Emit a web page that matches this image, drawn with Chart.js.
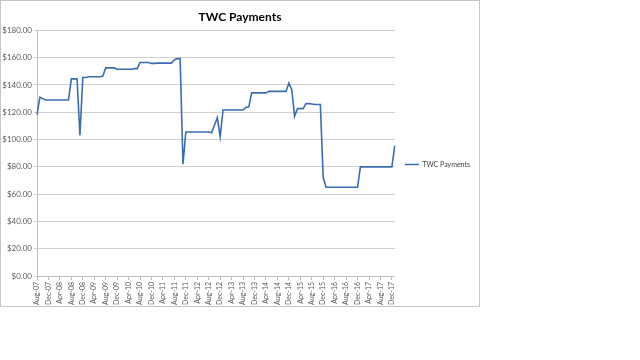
<!DOCTYPE html>
<html><head><meta charset="utf-8">
<script src="https://cdn.jsdelivr.net/npm/chart.js@4"></script>
<style>
html,body{margin:0;padding:0;background:#fff;}
#wrap{position:absolute;left:0;top:0;width:480px;height:307px;}
#frame{position:absolute;left:0;top:0;width:480px;height:307px;box-sizing:border-box;border:1px solid #c6c6c6;pointer-events:none;}
canvas{position:absolute;left:0;top:0;}
</style></head><body>
<div id="wrap"><canvas id="c" width="480" height="307"></canvas><div id="frame"></div></div>
<script>
const chartTitle = 'TWC Payments';
const seriesName = 'TWC Payments';
const months = [
 'Aug-07','Sep-07','Oct-07','Nov-07','Dec-07',
 'Jan-08','Feb-08','Mar-08','Apr-08','May-08','Jun-08','Jul-08','Aug-08','Sep-08','Oct-08','Nov-08','Dec-08',
 'Jan-09','Feb-09','Mar-09','Apr-09','May-09','Jun-09','Jul-09','Aug-09','Sep-09','Oct-09','Nov-09','Dec-09',
 'Jan-10','Feb-10','Mar-10','Apr-10','May-10','Jun-10','Jul-10','Aug-10','Sep-10','Oct-10','Nov-10','Dec-10',
 'Jan-11','Feb-11','Mar-11','Apr-11','May-11','Jun-11','Jul-11','Aug-11','Sep-11','Oct-11','Nov-11','Dec-11',
 'Jan-12','Feb-12','Mar-12','Apr-12','May-12','Jun-12','Jul-12','Aug-12','Sep-12','Oct-12','Nov-12','Dec-12',
 'Jan-13','Feb-13','Mar-13','Apr-13','May-13','Jun-13','Jul-13','Aug-13','Sep-13','Oct-13','Nov-13','Dec-13',
 'Jan-14','Feb-14','Mar-14','Apr-14','May-14','Jun-14','Jul-14','Aug-14','Sep-14','Oct-14','Nov-14','Dec-14',
 'Jan-15','Feb-15','Mar-15','Apr-15','May-15','Jun-15','Jul-15','Aug-15','Sep-15','Oct-15','Nov-15','Dec-15',
 'Jan-16','Feb-16','Mar-16','Apr-16','May-16','Jun-16','Jul-16','Aug-16','Sep-16','Oct-16','Nov-16','Dec-16',
 'Jan-17','Feb-17','Mar-17','Apr-17','May-17','Jun-17','Jul-17','Aug-17','Sep-17','Oct-17','Nov-17','Dec-17',
 'Jan-18'
];
const payments = [
 118,131,130,129,129,129,129,129,129,129,129,129,
 144.5,144.5,144.5,103,145.5,145.5,146,146,146,146,146,146.5,
 152.5,152.5,152.5,152.5,151.5,151.5,151.5,151.5,151.5,151.5,152,152,
 156.5,156.5,156.5,156.5,155.8,155.8,156,156,156,156,156,156,
 158.5,159.3,159.3,82,105.5,105.5,105.5,105.5,105.5,105.5,105.5,105.5,
 105.5,105,110.5,116,102,121.7,121.7,121.7,121.7,121.7,121.7,121.7,
 121.7,123.5,124,134.2,134.2,134.2,134.2,134.2,134.2,135.3,135.3,135.3,
 135.3,135.3,135.3,135.3,141.5,136.5,117,122.7,122.7,122.7,126.3,126.3,
 126,125.7,125.7,125.7,72,65,65,65,65,65,65,65,
 65,65,65,65,65,80,80,80,80,80,80,80,
 80,80,80,80,80,95.5
];
const yMin = 0, yMax = 180, yStep = 20;
const labelEvery = 4;

const FONT = 'Lato, "Open Sans", sans-serif';
new Chart(document.getElementById('c'), {
  type: 'line',
  data: {
    labels: months,
    datasets: [{
      label: seriesName,
      data: payments,
      borderColor: '#3b6db3',
      backgroundColor: '#3b6db3',
      borderWidth: 1.6,
      pointRadius: 0,
      pointHoverRadius: 0,
      tension: 0,
      fill: false
    }]
  },
  options: {
    responsive: false,
    animation: false,
    devicePixelRatio: 1,
    layout: { padding: { left: 0, right: 0, top: 0, bottom: 0 } },
    plugins: {
      title: {
        display: true, text: chartTitle, color: '#000',
        font: { family: FONT, size: 12, weight: 'bold' },
        padding: { top: 10, bottom: 6 }
      },
      legend: {
        position: 'right',
        title: { display: true, text: ' ', font: { family: FONT, size: 10 }, padding: 5 },
        labels: {
          usePointStyle: true, pointStyle: 'line', pointStyleWidth: 14,
          color: '#404040', font: { family: FONT, size: 7 }, padding: 10
        }
      },
      tooltip: { enabled: false }
    },
    scales: {
      x: {
        type: 'category',
        offset: false,
        grid: {
          drawOnChartArea: false, drawTicks: true, tickLength: 4,
          color: (ctx) => (ctx.index % labelEvery === 0 ? '#bfbfbf' : 'rgba(0,0,0,0)')
        },
        border: { color: '#bfbfbf' },
        ticks: {
          autoSkip: false, minRotation: 90, maxRotation: 90, padding: 2,
          color: '#595959', font: { family: FONT, size: 7 },
          callback: (v, i) => (i % labelEvery === 0 ? months[i] : '')
        },
        afterFit: (s) => { s.height = 31; }
      },
      y: {
        min: yMin, max: yMax,
        grid: { color: '#d0d0d0', tickLength: 3 },
        border: { color: '#bfbfbf' },
        ticks: {
          stepSize: yStep, padding: 2, color: '#595959',
          font: { family: FONT, size: 8 },
          callback: (v) => '$' + Number(v).toFixed(2)
        },
        afterFit: (s) => { s.width = 37; }
      }
    }
  }
});
</script>
</body></html>
